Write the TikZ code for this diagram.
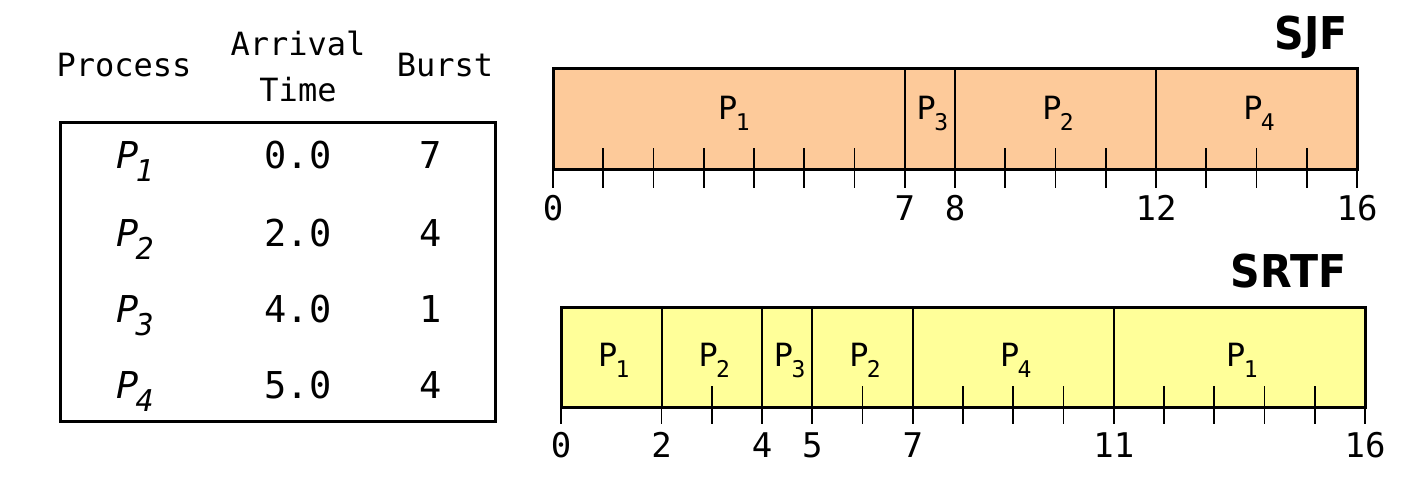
\documentclass[tikz,border=0pt]{standalone}
\usepackage{fontspec}
\setmonofont{DejaVu Sans Mono}
\newfontfamily\titlefont[FakeStretch=0.91]{DejaVu Sans Bold}
\usepackage{xcolor}
\usepackage{tikz}
\usetikzlibrary{positioning}

\definecolor{sjffill}{HTML}{FDCA9A}
\definecolor{srtffill}{HTML}{FFFF99}

\newcommand{\tabp}[1]{\textit{P}\kern-0.08em\raisebox{-6.5pt}{\fontsize{15}{15}\selectfont\textit{#1}}}
\newcommand{\barp}[1]{P\kern-0.05em\raisebox{-5.5pt}{\fontsize{11.5}{11.5}\selectfont #1}}

\begin{document}
\begin{tikzpicture}[x=0.5pt, y=0.5pt,
    tabhead/.style={font=\ttfamily\fontsize{16}{16}\selectfont, anchor=base},
    tabcell/.style={font=\ttfamily\fontsize{18.5}{18.5}\selectfont, anchor=base},
    barlabel/.style={font=\ttfamily\fontsize{16}{16}\selectfont, anchor=base},
    timelabel/.style={font=\ttfamily\fontsize{17}{17}\selectfont, anchor=base},
    charttitle/.style={font=\titlefont\fontsize{22.6}{22.6}\selectfont, anchor=base east, inner sep=0pt},
    frame/.style={line width=1.5pt},
    divider/.style={line width=1pt},
    timetick/.style={line width=0.9pt}]
    \useasboundingbox (0,0) rectangle (1407,499);

    % table
    \node[tabhead] (hproc) at (124,422) {Process};
    \node[tabhead] (harr) at (298,443) {Arrival};
    \node[tabhead] (htime) at (298,397) {Time};
    \node[tabhead] (hburst) at (445,422) {Burst};
    \draw[frame] (60,78) rectangle (495,376);
    \foreach \i/\a/\b/\y in {1/0.0/7/331, 2/2.0/4/253, 3/4.0/1/177, 4/5.0/4/101} {
        \node[tabcell] (proc\i) at (135,\y) {\tabp{\i}};
        \node[tabcell] (arr\i) at (298,\y) {\a};
        \node[tabcell] (burst\i) at (431,\y) {\b};
    }

    % SJF
    \begin{scope}[shift={(553,330)}, x=25.125pt, y=50pt]
        \draw[frame, fill=sjffill] (0,0) rectangle (16,1);
        \draw[divider] (7,0) -- (7,1) (8,0) -- (8,1) (12,0) -- (12,1);
        \foreach \t in {1,...,6,9,10,11,13,14,15}
            \draw[timetick] (\t,0) -- (\t,0.21);
        \foreach \t in {0,...,16}
            \draw[timetick] (\t,0) -- (\t,-0.19);
        \node[barlabel] (sjf-p1) at (3.6,0.49) {\barp{1}};
        \node[barlabel] (sjf-p3) at (7.55,0.49) {\barp{3}};
        \node[barlabel] (sjf-p2) at (10.05,0.49) {\barp{2}};
        \node[barlabel] (sjf-p4) at (14.05,0.49) {\barp{4}};
        \foreach \t in {0,7,8,12,16}
            \node[timelabel] (sjf-t\t) at (\t,-0.51) {\t};
        \node[charttitle] (sjf-title) at (15.82,1.19) {SJF};
    \end{scope}

    % SRTF
    \begin{scope}[shift={(561,92)}, x=25.125pt, y=50pt]
        \draw[frame, fill=srtffill] (0,0) rectangle (16,1);
        \draw[divider] (2,0) -- (2,1) (4,0) -- (4,1) (5,0) -- (5,1)
            (7,0) -- (7,1) (11,0) -- (11,1);
        \foreach \t in {3,6,8,9,10,12,13,14,15}
            \draw[timetick] (\t,0) -- (\t,0.21);
        \foreach \t in {0,2,3,...,16}
            \draw[timetick] (\t,0) -- (\t,-0.17);
        \node[barlabel] (srtf-p1a) at (1.05,0.41) {\barp{1}};
        \node[barlabel] (srtf-p2a) at (3.05,0.41) {\barp{2}};
        \node[barlabel] (srtf-p3) at (4.55,0.41) {\barp{3}};
        \node[barlabel] (srtf-p2b) at (6.05,0.41) {\barp{2}};
        \node[barlabel] (srtf-p4) at (9.05,0.41) {\barp{4}};
        \node[barlabel] (srtf-p1b) at (13.55,0.41) {\barp{1}};
        \foreach \t in {0,2,4,5,7,11,16}
            \node[timelabel] (srtf-t\t) at (\t,-0.50) {\t};
        \node[charttitle] (srtf-title) at (15.64,1.20) {SRTF};
    \end{scope}
\end{tikzpicture}
\end{document}
